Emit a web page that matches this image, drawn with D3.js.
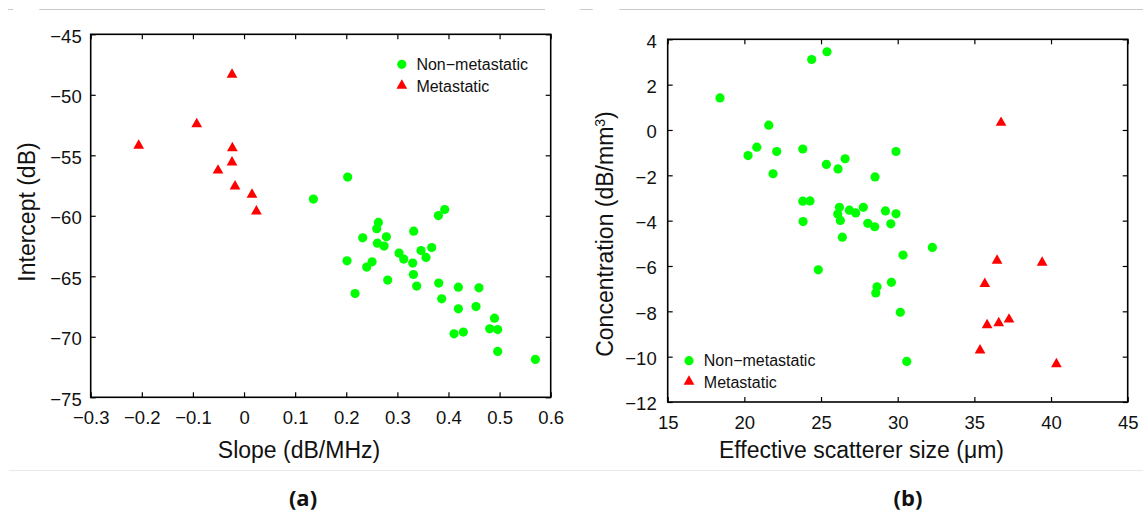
<!DOCTYPE html>
<html>
<head>
<meta charset="utf-8">
<script src="https://cdn.jsdelivr.net/npm/d3@7/dist/d3.min.js"></script>
<style>
  html, body { margin: 0; padding: 0; background: #fff; }
  svg { display: block; }
  text { font-family: "Liberation Sans", Arial, Helvetica, sans-serif; fill: #111; }
</style>
</head>
<body>
<svg id="chart" width="1143" height="514"></svg>
<script>
// ---------------- DATA ----------------
// Panel (a): Slope (dB/MHz) vs Intercept (dB)
const aNonMetSlope = [0.2028, 0.1357, 0.3926, 0.3803, 0.2629, 0.2596, 0.3320, 0.2322, 0.2785, 0.2609,
  0.2740, 0.3033, 0.3124, 0.3463, 0.3672, 0.3560, 0.3300, 0.3314, 0.2015, 0.2505,
  0.2400, 0.2811, 0.3378, 0.3809, 0.3867, 0.4194, 0.4597, 0.4194, 0.4539, 0.4900,
  0.4807, 0.4963, 0.4109, 0.4291, 0.4963, 0.5700, 0.2172];
const aNonMetIntercept = [-56.80, -58.62, -59.48, -59.98, -60.55, -61.07, -61.27, -61.82, -61.74, -62.26,
  -62.50, -63.08, -63.58, -62.87, -62.62, -63.44, -63.91, -64.85, -63.72, -63.80,
  -64.24, -65.31, -65.81, -65.56, -66.86, -65.90, -65.95, -67.69, -67.50, -68.46,
  -69.34, -69.40, -69.75, -69.61, -71.21, -71.87, -66.42];
const aMetSlope = [-0.0235, -0.0926, -0.2061, -0.0228, -0.0235, -0.0509, -0.0176, 0.0156, 0.0242];
const aMetIntercept = [-48.20, -52.29, -54.07, -54.27, -55.45, -56.12, -57.44, -58.12, -59.50];

// Panel (b): Effective scatterer size (um) vs Concentration (dB/mm^3)
const bNonMetSize = [18.41, 24.39, 25.39, 21.59, 20.24, 20.81, 22.11, 21.87, 23.81, 25.35,
  26.11, 26.57, 28.52, 29.89, 23.81, 24.28, 23.83, 26.20, 26.09, 26.26,
  26.85, 27.26, 27.76, 28.05, 28.50, 26.39, 29.20, 29.55, 29.89, 24.82,
  32.26, 30.35, 29.59, 28.65, 28.57, 30.17, 30.59];
const bNonMetConc = [1.415, 3.11, 3.45, 0.21, -1.13, -0.76, -0.95, -1.93, -0.84, -1.52,
  -1.72, -1.27, -2.07, -0.95, -3.14, -3.13, -4.04, -3.41, -3.71, -3.99,
  -3.54, -3.66, -3.41, -4.12, -4.27, -4.73, -3.57, -4.14, -3.70, -6.17,
  -5.18, -5.52, -6.72, -6.92, -7.19, -8.04, -10.21];
const bMetSize = [36.74, 36.48, 39.42, 35.68, 35.83, 36.59, 37.26, 35.37, 40.35];
const bMetConc = [0.39, -5.69, -5.78, -6.72, -8.54, -8.45, -8.29, -9.65, -10.26];

// Axis tick values
const aXTicks = [-0.3, -0.2, -0.1, 0, 0.1, 0.2, 0.3, 0.4, 0.5, 0.6];
const aYTicks = [-75, -70, -65, -60, -55, -50, -45];
const bXTicks = [15, 20, 25, 30, 35, 40, 45];
const bYTicks = [-12, -10, -8, -6, -4, -2, 0, 2, 4];

// Labels
const seriesNames = ["Non\u2212metastatic", "Metastatic"];
const panelLabels = ["(a)", "(b)"];

// ---------------- DRAW ----------------
const svg = d3.select("#chart");
svg.append("rect").attr("width", 1143).attr("height", 514).attr("fill", "#fff");

// decorative separator lines
const topSegs = [[8, 13], [39.3, 545], [580, 592.7], [619.3, 1143]];
svg.selectAll("line.sep").data(topSegs).enter().append("line")
  .attr("x1", d => d[0]).attr("x2", d => d[1]).attr("y1", 9.5).attr("y2", 9.5)
  .attr("stroke", "#c9c9c9").attr("stroke-width", 1);
svg.append("line").attr("x1", 9).attr("x2", 1143).attr("y1", 470.5).attr("y2", 470.5)
  .attr("stroke", "#e9e9e9").attr("stroke-width", 1);

const GREEN = "#00ff00", RED = "#ff0000";
const fmt = d3.format("~g");

// triangle symbol centred on its bounding box
const triUp = {
  draw(ctx, size) {
    const w = Math.sqrt(size), h = w * 0.88;
    ctx.moveTo(0, -h / 2);
    ctx.lineTo(w / 2, h / 2);
    ctx.lineTo(-w / 2, h / 2);
    ctx.closePath();
  }
};

function panel(cfg) {
  const x = d3.scaleLinear().domain(cfg.xDomain).range([cfg.left, cfg.right]);
  const y = d3.scaleLinear().domain(cfg.yDomain).range([cfg.bottom, cfg.top]);
  const g = svg.append("g");

  const axisStyle = sel => {
    sel.select(".domain").remove();
    sel.selectAll(".tick line").attr("stroke", "#000").attr("stroke-width", 1.2);
    sel.selectAll(".tick text").attr("font-size", 18.5).attr("fill", "#111")
      .style("font-family", '"Liberation Sans", Arial, sans-serif');
  };

  g.append("g").attr("transform", `translate(0,${cfg.bottom})`)
    .call(d3.axisBottom(x).tickValues(cfg.xTicks).tickFormat(fmt).tickSizeInner(-5).tickSizeOuter(0).tickPadding(13.5))
    .call(axisStyle);
  g.append("g").attr("transform", `translate(0,${cfg.top})`)
    .call(d3.axisTop(x).tickValues(cfg.xTicks).tickFormat("").tickSizeInner(-5).tickSizeOuter(0))
    .call(axisStyle);
  g.append("g").attr("transform", `translate(${cfg.left},0)`)
    .call(d3.axisLeft(y).tickValues(cfg.yTicks).tickFormat(fmt).tickSizeInner(-5).tickSizeOuter(0).tickPadding(cfg.yPad))
    .call(axisStyle)
    .selectAll(".tick text").attr("dy", "0.42em");
  g.append("g").attr("transform", `translate(${cfg.right},0)`)
    .call(d3.axisRight(y).tickValues(cfg.yTicks).tickFormat("").tickSizeInner(-5).tickSizeOuter(0))
    .call(axisStyle);

  g.append("rect")
    .attr("x", cfg.left).attr("y", cfg.top)
    .attr("width", cfg.right - cfg.left).attr("height", cfg.bottom - cfg.top)
    .attr("fill", "none").attr("stroke", "#000").attr("stroke-width", 1.6);

  // points
  const circ = cfg.nonX.map((v, i) => [v, cfg.nonY[i]]);
  const tri = cfg.metX.map((v, i) => [v, cfg.metY[i]]);
  g.selectAll("circle.pt").data(circ).enter().append("circle")
    .attr("cx", d => x(d[0])).attr("cy", d => y(d[1])).attr("r", 4.6).attr("fill", GREEN);
  const triPath = d3.symbol().type(triUp).size(115);
  g.selectAll("path.tri").data(tri).enter().append("path")
    .attr("d", triPath)
    .attr("transform", d => `translate(${x(d[0])},${y(d[1])})`).attr("fill", RED);

  // axis titles
  g.append("text").attr("x", cfg.xTitleX).attr("y", 457.5).attr("text-anchor", "middle")
    .attr("font-size", 23).text(cfg.xTitle);
  const yt = g.append("text").attr("transform", `translate(${cfg.yTitleX},${cfg.yTitleY}) rotate(-90)`)
    .attr("text-anchor", "middle").attr("font-size", 23);
  yt.append("tspan").text(cfg.yTitle);
  if (cfg.yTitleSup) {
    yt.append("tspan").attr("font-size", 14).attr("dy", "-0.55em").text(cfg.yTitleSup);
    yt.append("tspan").attr("dy", "0.35em").text(cfg.yTitleEnd);
  }

  // legend
  const L = cfg.legend;
  g.append("circle").attr("cx", L.mx).attr("cy", L.y1).attr("r", 4.6).attr("fill", GREEN);
  g.append("path").attr("d", triPath).attr("transform", `translate(${L.mx},${L.y2})`).attr("fill", RED);
  g.append("text").attr("x", L.tx).attr("y", L.y1 + 5.7).attr("font-size", 16).text(seriesNames[0]);
  g.append("text").attr("x", L.tx).attr("y", L.y2 + 7.5).attr("font-size", 16).text(seriesNames[1]);

  // panel label
  svg.append("text").attr("x", cfg.labelX).attr("y", 506).attr("text-anchor", "middle")
    .attr("font-size", 22).attr("font-weight", "bold")
    .style("font-family", '"Open Sans", "Noto Sans", sans-serif')
    .text(cfg.label);
}

panel({
  xDomain: [-0.3, 0.6], yDomain: [-75, -45],
  left: 90.7, right: 550.7, top: 34.3, bottom: 397.3,
  xTicks: aXTicks, yTicks: aYTicks, yPad: 9,
  nonX: aNonMetSlope, nonY: aNonMetIntercept, metX: aMetSlope, metY: aMetIntercept,
  xTitle: "Slope (dB/MHz)", xTitleX: 299,
  yTitle: "Intercept (dB)", yTitleX: 35, yTitleY: 212,
  legend: { mx: 401.8, tx: 416.4, y1: 64.3, y2: 84 },
  label: panelLabels[0], labelX: 303
});

panel({
  xDomain: [15, 45], yDomain: [-12, 4],
  left: 667.7, right: 1127.7, top: 39.3, bottom: 402,
  xTicks: bXTicks, yTicks: bYTicks, yPad: 11,
  nonX: bNonMetSize, nonY: bNonMetConc, metX: bMetSize, metY: bMetConc,
  xTitle: "Effective scatterer size (\u03bcm)", xTitleX: 861.5,
  yTitle: "Concentration (dB/mm", yTitleSup: "3", yTitleEnd: ")", yTitleX: 613, yTitleY: 234,
  legend: { mx: 689, tx: 703.8, y1: 360.7, y2: 380 },
  label: panelLabels[1], labelX: 908
});
</script>
</body>
</html>
